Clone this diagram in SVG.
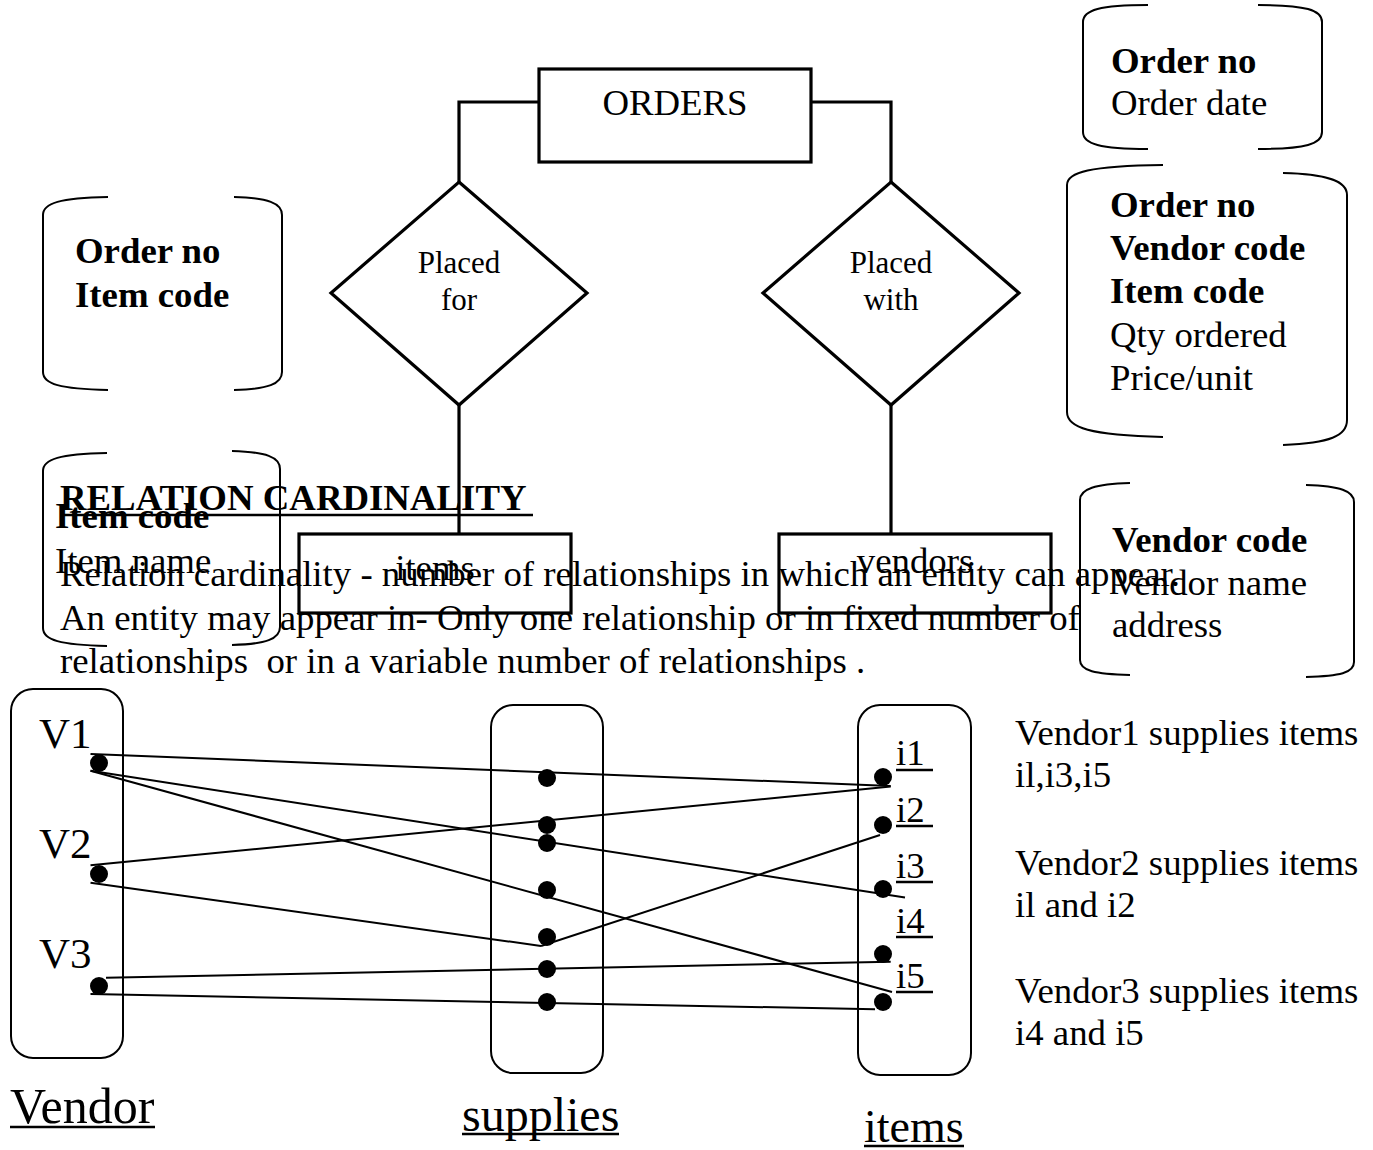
<svg xmlns="http://www.w3.org/2000/svg" width="1373" height="1150" viewBox="0 0 1373 1150">
<style>
  text { font-family: "Liberation Serif", "Times New Roman", serif; fill: #000; }
  .t { font-size: 36.8px; }
  .b { font-size: 36.8px; font-weight: bold; }
  .er { fill: none; stroke: #000; stroke-width: 3.2; }
  .brk { fill: none; stroke: #000; stroke-width: 2; }
  .col { fill: none; stroke: #000; stroke-width: 2; }
  .ln { fill: none; stroke: #000; stroke-width: 2; }
  .ul { stroke: #000; stroke-width: 2.6; }
  .dot { fill: #000; }
  .mid { text-anchor: middle; }
</style>
<rect width="1373" height="1150" fill="#fff"/>

<g id="connectors">
  <polyline class="er" points="538,102 459,102 459,182"/>
  <polyline class="er" points="811,102 891,102 891,182"/>
  <line class="er" x1="459" y1="405" x2="459" y2="534"/>
  <line class="er" x1="891" y1="405" x2="891" y2="534"/>
  <line class="ln" x1="90.5" y1="754" x2="890.7" y2="786"/>
  <line class="ln" x1="90.5" y1="770.7" x2="905" y2="897.5"/>
  <line class="ln" x1="90.5" y1="770.7" x2="892" y2="992"/>
  <line class="ln" x1="90.5" y1="865.3" x2="890.7" y2="786.5"/>
  <line class="ln" x1="90.5" y1="882.7" x2="541" y2="946"/>
  <line class="ln" x1="541" y1="946" x2="880" y2="835"/>
  <line class="ln" x1="106" y1="977.7" x2="890.7" y2="961.7"/>
  <line class="ln" x1="90.5" y1="994" x2="875" y2="1009.3"/>
</g>

<g id="orders">
  <rect class="er" x="539" y="69" width="272" height="93"/>
  <text class="t mid" x="675" y="115">ORDERS</text>
</g>
<g id="placed-for">
  <polygon class="er" points="459,182 587,293 459,405 331,293"/>
  <text class="mid" x="459" y="273" font-size="31">Placed</text>
  <text class="mid" x="459" y="310" font-size="31">for</text>
</g>
<g id="placed-with">
  <polygon class="er" points="891,182 1019,293 891,405 763,293"/>
  <text class="mid" x="891" y="273" font-size="31">Placed</text>
  <text class="mid" x="891" y="310" font-size="31">with</text>
</g>
<g id="items-entity">
  <rect class="er" x="299" y="534" width="272" height="79"/>
  <text class="t mid" x="435" y="580">items</text>
</g>
<g id="vendors-entity">
  <rect class="er" x="779" y="534" width="272" height="79"/>
  <text class="t mid" x="915" y="573">vendors</text>
</g>

<g id="attr-orders">
  <path class="brk" d="M1148,5 C1100,5 1083,10 1083,22 L1083,132 C1083,144 1100,149 1148,149"/>
  <path class="brk" d="M1258,5 C1306,5 1322,10 1322,22 L1322,132 C1322,144 1306,149 1258,149"/>
  <text class="b" x="1111" y="73">Order no</text>
  <text class="t" x="1111" y="115">Order date</text>
</g>
<g id="attr-placed-with">
  <path class="brk" d="M1163,165 C1090,166 1067,172 1067,185 L1067,412 C1067,428 1090,435 1163,437"/>
  <path class="brk" d="M1283,173 C1330,174 1347,182 1347,195 L1347,420 C1347,436 1330,443 1283,445"/>
  <text class="b" x="1110" y="217">Order no</text>
  <text class="b" x="1110" y="260">Vendor code</text>
  <text class="b" x="1110" y="303">Item code</text>
  <text class="t" x="1110" y="347">Qty ordered</text>
  <text class="t" x="1110" y="390">Price/unit</text>
</g>
<g id="attr-placed-for">
  <path class="brk" d="M108,197 C60,198 43,203 43,215 L43,372 C43,384 60,389 108,390"/>
  <path class="brk" d="M234,197 C268,198 282,203 282,215 L282,372 C282,384 268,389 234,390"/>
  <text class="b" x="75" y="263">Order no</text>
  <text class="b" x="75" y="307">Item code</text>
</g>
<g id="attr-items">
  <path class="brk" d="M107,453 C60,454 43,459 43,471 L43,628 C43,640 60,645 107,646"/>
  <path class="brk" d="M232,451 C266,452 280,457 280,469 L280,627 C280,639 266,644 232,645"/>
  <text class="b" x="55" y="528">Item code</text>
  <text class="t" x="55" y="573">Item name</text>
</g>
<g id="attr-vendors">
  <path class="brk" d="M1130,483 C1095,484 1080,489 1080,500 L1080,660 C1080,671 1095,674 1130,675"/>
  <path class="brk" d="M1306,485 C1340,486 1354,491 1354,502 L1354,662 C1354,673 1340,676 1306,677"/>
  <text class="b" x="1112" y="552">Vendor code</text>
  <text class="t" x="1112" y="595">Vendor name</text>
  <text class="t" x="1112" y="637">address</text>
</g>

<g id="cardinality-text">
  <text class="b" x="60" y="510">RELATION CARDINALITY</text>
  <line class="ul" x1="60" y1="515" x2="533" y2="515"/>
  <text class="t" x="60" y="586">Relation cardinality - number of relationships in which an entity can appear.</text>
  <text class="t" x="60" y="630">An entity may appear in- Only one relationship or in fixed number of</text>
  <text class="t" x="60" y="673" xml:space="preserve">relationships  or in a variable number of relationships .</text>
</g>

<g id="vendor-set">
  <rect class="col" x="11" y="689" width="112" height="369" rx="22"/>
  <text x="39" y="748" font-size="43">V1</text>
  <text x="39" y="858" font-size="43">V2</text>
  <text x="39" y="968" font-size="43">V3</text>
  <circle class="dot" cx="99" cy="763" r="9"/>
  <circle class="dot" cx="99" cy="874" r="9"/>
  <circle class="dot" cx="99" cy="986" r="9"/>
  <text x="10" y="1123" font-size="50">Vendor</text>
  <line class="ul" x1="10" y1="1127" x2="155" y2="1127"/>
</g>
<g id="supplies-set">
  <rect class="col" x="491" y="705" width="112" height="368" rx="22"/>
  <circle class="dot" cx="547" cy="778" r="9"/>
  <circle class="dot" cx="547" cy="825" r="9"/>
  <circle class="dot" cx="547" cy="843" r="9"/>
  <circle class="dot" cx="547" cy="890" r="9"/>
  <circle class="dot" cx="547" cy="937" r="9"/>
  <circle class="dot" cx="547" cy="969" r="9"/>
  <circle class="dot" cx="547" cy="1002" r="9"/>
  <text x="462" y="1131" font-size="48">supplies</text>
  <line class="ul" x1="462" y1="1134" x2="619" y2="1134"/>
</g>
<g id="items-set">
  <rect class="col" x="858" y="705" width="113" height="370" rx="22"/>
  <text class="t" x="896" y="765">i1</text>
  <line class="ul" x1="896" y1="770" x2="933" y2="770"/>
  <text class="t" x="896" y="822">i2</text>
  <line class="ul" x1="896" y1="826" x2="933" y2="826"/>
  <text class="t" x="896" y="878">i3</text>
  <line class="ul" x1="896" y1="882" x2="933" y2="882"/>
  <text class="t" x="896" y="933">i4</text>
  <line class="ul" x1="896" y1="937" x2="933" y2="937"/>
  <text class="t" x="896" y="988">i5</text>
  <line class="ul" x1="896" y1="992" x2="933" y2="992"/>
  <circle class="dot" cx="883" cy="777" r="9"/>
  <circle class="dot" cx="883" cy="825" r="9"/>
  <circle class="dot" cx="883" cy="889" r="9"/>
  <circle class="dot" cx="883" cy="954" r="9"/>
  <circle class="dot" cx="883" cy="1002" r="9"/>
  <text x="864" y="1142" font-size="46">items</text>
  <line class="ul" x1="864" y1="1146" x2="964" y2="1146"/>
</g>

<g id="notes">
  <text class="t" x="1015" y="745">Vendor1 supplies items</text>
  <text class="t" x="1015" y="787">il,i3,i5</text>
  <text class="t" x="1015" y="875">Vendor2 supplies items</text>
  <text class="t" x="1015" y="917">il and i2</text>
  <text class="t" x="1015" y="1003">Vendor3 supplies items</text>
  <text class="t" x="1015" y="1045">i4 and i5</text>
</g>
</svg>
